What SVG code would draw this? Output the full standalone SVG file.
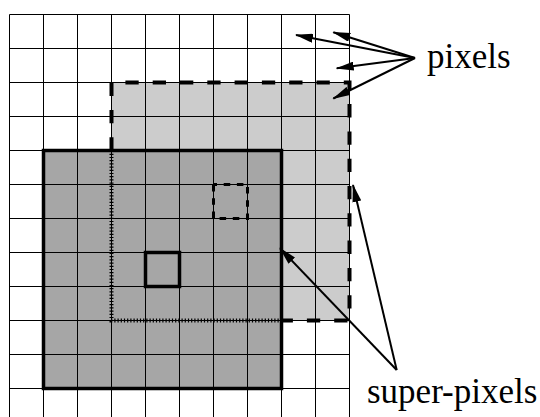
<svg xmlns="http://www.w3.org/2000/svg" width="540" height="417" viewBox="0 0 540 417">
<defs>
<style>
.grid line{stroke:#000;stroke-width:1}
.arrow{stroke:#000;stroke-width:2;fill:none;marker-end:url(#ah)}
.lbl{font-family:'Liberation Serif','Times New Roman',serif;font-size:35px;fill:#000}
</style>
<marker id="ah" markerUnits="userSpaceOnUse" markerWidth="18" markerHeight="9" refX="17" refY="4.5" orient="auto">
<path d="M0,0 L18,4.5 L0,9 z" fill="#000"/>
</marker>
</defs>
<rect width="540" height="417" fill="#fff"/>
<g id="light-superpixel-fill"><rect x="111.5" y="82.5" width="238" height="238" fill="#cccccc"/></g>
<g id="dark-superpixel-fill"><rect x="43.5" y="150.5" width="238" height="238" fill="#a6a6a6"/></g>
<g id="grid" class="grid">
<line x1="9.5" y1="14.5" x2="9.5" y2="417"/>
<line x1="43.5" y1="14.5" x2="43.5" y2="417"/>
<line x1="77.5" y1="14.5" x2="77.5" y2="417"/>
<line x1="111.5" y1="14.5" x2="111.5" y2="417"/>
<line x1="145.5" y1="14.5" x2="145.5" y2="417"/>
<line x1="179.5" y1="14.5" x2="179.5" y2="417"/>
<line x1="213.5" y1="14.5" x2="213.5" y2="417"/>
<line x1="247.5" y1="14.5" x2="247.5" y2="417"/>
<line x1="281.5" y1="14.5" x2="281.5" y2="417"/>
<line x1="315.5" y1="14.5" x2="315.5" y2="417"/>
<line x1="349.5" y1="14.5" x2="349.5" y2="417"/>
<line x1="9.5" y1="14.5" x2="349.5" y2="14.5"/>
<line x1="9.5" y1="48.5" x2="349.5" y2="48.5"/>
<line x1="9.5" y1="82.5" x2="349.5" y2="82.5"/>
<line x1="9.5" y1="116.5" x2="349.5" y2="116.5"/>
<line x1="9.5" y1="150.5" x2="349.5" y2="150.5"/>
<line x1="9.5" y1="184.5" x2="349.5" y2="184.5"/>
<line x1="9.5" y1="218.5" x2="349.5" y2="218.5"/>
<line x1="9.5" y1="252.5" x2="349.5" y2="252.5"/>
<line x1="9.5" y1="286.5" x2="349.5" y2="286.5"/>
<line x1="9.5" y1="320.5" x2="349.5" y2="320.5"/>
<line x1="9.5" y1="354.5" x2="349.5" y2="354.5"/>
<line x1="9.5" y1="388.5" x2="349.5" y2="388.5"/>
</g>
<g id="light-superpixel-border">
<path d="M111.5,150.5 L111.5,82.5 L349.5,82.5 L349.5,320.5 L281.5,320.5" fill="none" stroke="#000" stroke-width="4" stroke-dasharray="13.3 14" stroke-dashoffset="0"/>
<path d="M111.5,150.5 L111.5,320.5 L281.5,320.5" fill="none" stroke="#000" stroke-width="1"/>
<path d="M111.5,150.5 L111.5,320.5 L281.5,320.5" fill="none" stroke="#000" stroke-width="4" stroke-dasharray="1.2 2"/>
</g>
<g id="dark-superpixel-border"><rect x="43.5" y="150.5" width="238" height="238" fill="none" stroke="#000" stroke-width="3.5"/></g>
<g id="dashed-pixel"><rect x="213.5" y="184.5" width="34" height="34" fill="none" stroke="#000" stroke-width="3" stroke-dasharray="6.5 6.7" stroke-dashoffset="3"/></g>
<g id="solid-pixel"><rect x="145.5" y="252.5" width="34" height="34" fill="none" stroke="#000" stroke-width="3.5"/></g>
<g id="connectors">
<line class="arrow" x1="415" y1="58" x2="296" y2="35"/>
<line class="arrow" x1="415" y1="58" x2="333.3" y2="32.3"/>
<line class="arrow" x1="415" y1="58" x2="336.7" y2="68.3"/>
<line class="arrow" x1="415" y1="58" x2="333.3" y2="98.5"/>
<line class="arrow" x1="396.7" y1="370" x2="353" y2="185"/>
<line class="arrow" x1="396.7" y1="370" x2="280" y2="248.3"/>
</g>
<g id="label-pixels"><text class="lbl" x="427" y="68" font-family="'Liberation Serif','Times New Roman',serif" font-size="35">pixels</text></g>
<g id="label-super-pixels"><text class="lbl" x="367" y="403" font-family="'Liberation Serif','Times New Roman',serif" font-size="35">super-pixels</text></g>
</svg>
